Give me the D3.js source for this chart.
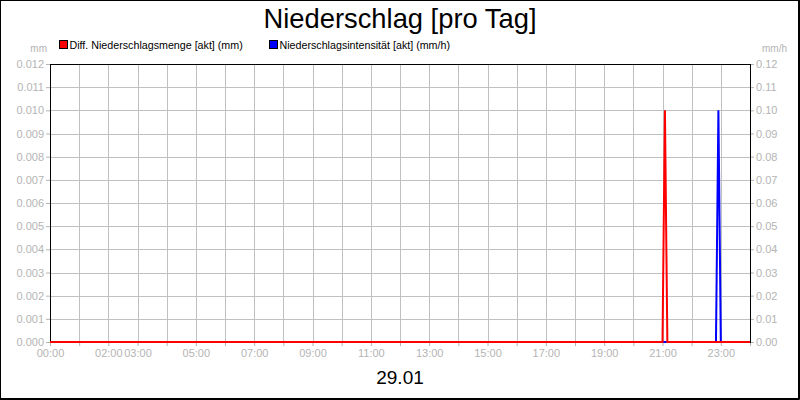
<!DOCTYPE html>
<html>
<head>
<meta charset="utf-8">
<script src="https://cdn.jsdelivr.net/npm/d3@7"></script>
<style>
  body { margin: 0; background: #fff; }
  text { font-family: "Liberation Sans", Arial, sans-serif; }
</style>
</head>
<body>
<div id="chart"></div>
<script>
// 5-minute samples around the two events (minutes since 00:00)
const mengeTimes = [0, 1260, 1265, 1270, 1440];
const mengeValues = [0, 0, 0.010, 0, 0];
const intensTimes = [0, 1370, 1375, 1380, 1440];
const intensValues = [0, 0, 0.10, 0, 0];

const leftTicks = [0, 0.001, 0.002, 0.003, 0.004, 0.005, 0.006, 0.007, 0.008, 0.009, 0.010, 0.011, 0.012];
const rightTicks = [0, 0.01, 0.02, 0.03, 0.04, 0.05, 0.06, 0.07, 0.08, 0.09, 0.10, 0.11, 0.12];
const hourTicks = d3.range(0, 25);
const hourLabels = [0, 2, 3, 5, 7, 9, 11, 13, 15, 17, 19, 21, 23];

const width = 800, height = 400;
const margin = { left: 50, right: 50, top: 64, bottom: 58 };
const grey = "#b4b4b4";

const svg = d3.select("#chart")
              .append("svg")
              .attr("width", width)
              .attr("height", height);

svg.append("rect")
   .attr("width", width).attr("height", height)
   .attr("fill", "#fff");

const x = d3.scaleLinear().domain([0, 1440]).range([margin.left, width - margin.right]);
const yL = d3.scaleLinear().domain([0, 0.012]).range([height - margin.bottom, margin.top]);
const yR = d3.scaleLinear().domain([0, 0.12]).range([height - margin.bottom, margin.top]);

// grid
svg.append("g").selectAll("line")
   .data(hourTicks.slice(1, -1))
   .enter().append("line")
   .attr("x1", d => Math.round(x(d * 60)) + 0.5).attr("x2", d => Math.round(x(d * 60)) + 0.5)
   .attr("y1", yL(0.012)).attr("y2", yL(0))
   .attr("stroke", "#c0c0c0");
svg.append("g").selectAll("line")
   .data(leftTicks.slice(1, -1))
   .enter().append("line")
   .attr("x1", x(0)).attr("x2", x(1440))
   .attr("y1", d => Math.round(yL(d)) + 0.5).attr("y2", d => Math.round(yL(d)) + 0.5)
   .attr("stroke", "#c0c0c0");

// axes
const axisStyle = g => {
  g.select(".domain").remove();
  g.selectAll(".tick line").attr("stroke", grey);
  g.selectAll(".tick text").attr("fill", grey).style("font-size", "11px");
};

svg.append("g")
   .attr("transform", `translate(${x(0)},0)`)
   .call(d3.axisLeft(yL).tickValues(leftTicks).tickFormat(d3.format(".3f")).tickSize(4).tickPadding(2))
   .call(axisStyle);

svg.append("g")
   .attr("transform", `translate(${x(1440)},0)`)
   .call(d3.axisRight(yR).tickValues(rightTicks).tickFormat(d3.format(".2f")).tickSize(4).tickPadding(2))
   .call(axisStyle);

svg.append("g")
   .attr("transform", `translate(0,${yL(0)})`)
   .call(d3.axisBottom(x).tickValues(hourTicks.map(h => h * 60)).tickSize(4).tickPadding(3)
         .tickFormat(d => hourLabels.includes(d / 60) ? d3.format("02")(d / 60) + ":00" : ""))
   .call(axisStyle);

// plot frame
svg.append("rect")
   .attr("x", x(0) + 0.5).attr("y", yL(0.012) + 0.5)
   .attr("width", x(1440) - x(0)).attr("height", yL(0) - yL(0.012))
   .attr("fill", "none").attr("stroke", "#000");

// series (intensity first, amount drawn on top)
const lineR = d3.line().x((d, i) => x(intensTimes[i])).y(d => yR(d));
const lineL = d3.line().x((d, i) => x(mengeTimes[i])).y(d => yL(d));

svg.append("path")
   .datum(intensValues)
   .attr("d", lineR)
   .attr("fill", "none").attr("stroke", "#0000ff").attr("stroke-width", 2);

svg.append("path")
   .datum(mengeValues)
   .attr("d", lineL)
   .attr("fill", "none").attr("stroke", "#ff0000").attr("stroke-width", 2);

// units
svg.append("text").attr("x", 47).attr("y", 52).attr("text-anchor", "end")
   .attr("fill", grey).style("font-size", "10px").text("mm");
svg.append("text").attr("x", 787).attr("y", 52).attr("text-anchor", "end")
   .attr("fill", grey).style("font-size", "10px").text("mm/h");

// legend
const legend = [
  { label: "Diff. Niederschlagsmenge [akt] (mm)", color: "#ff0000", x: 59 },
  { label: "Niederschlagsintensität [akt] (mm/h)", color: "#0000ff", x: 269 }
];
const lg = svg.append("g").selectAll("g")
   .data(legend)
   .enter().append("g")
   .attr("transform", d => `translate(${d.x},40)`);
lg.append("rect")
   .attr("x", 0.5).attr("y", 0.5).attr("width", 8).attr("height", 8)
   .attr("fill", d => d.color).attr("stroke", "#000");
lg.append("text")
   .attr("x", 10.5).attr("y", 8.5)
   .style("font-size", "10.7px")
   .text(d => d.label);

// title and date
svg.append("text").attr("x", 400).attr("y", 28).attr("text-anchor", "middle")
   .style("font-size", "28px")
   .attr("textLength", 273).attr("lengthAdjust", "spacingAndGlyphs")
   .text("Niederschlag [pro Tag]");
svg.append("text").attr("x", 400).attr("y", 384).attr("text-anchor", "middle")
   .style("font-size", "19px").text("29.01");

// outer border
svg.append("rect")
   .attr("x", 0.5).attr("y", 0.5).attr("width", width - 2).attr("height", height - 2)
   .attr("fill", "none").attr("stroke", "#000");
svg.append("path")
   .attr("d", `M${width - 0.5},0V${height - 0.5}H0`)
   .attr("fill", "none").attr("stroke", "#000");
</script>
</body>
</html>
